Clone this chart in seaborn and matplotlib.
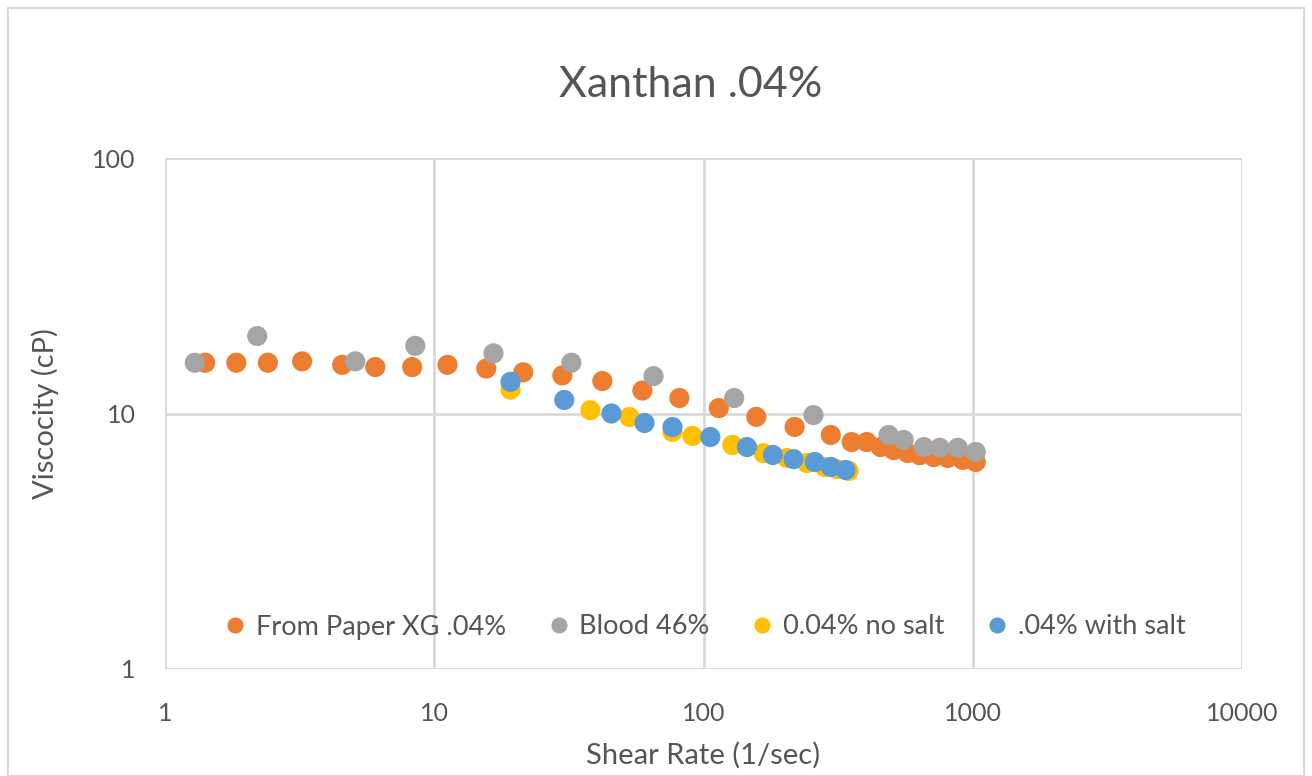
import matplotlib
matplotlib.use("Agg")
import matplotlib.pyplot as plt
import seaborn as sns
import pandas as pd
from matplotlib.patches import Rectangle

# values (log-log)
paper_x = [1.41, 1.84, 2.41, 3.23, 4.55, 6.04, 8.28, 11.2, 15.6, 21.4, 29.9, 42.1, 59.3,
           81.4, 114, 157, 218, 297, 355, 404, 455, 508, 573, 635, 716, 807, 918, 1026]
paper_y = [15.8, 15.8, 15.8, 16.0, 15.5, 15.2, 15.2, 15.5, 15.0, 14.5, 14.1, 13.4, 12.3,
           11.5, 10.5, 9.7, 8.86, 8.24, 7.73, 7.73, 7.39, 7.19, 7.00, 6.87, 6.75, 6.70, 6.58, 6.46]

blood_x = [1.29, 2.20, 5.09, 8.50, 16.6, 32.3, 65.2, 130, 256, 487, 554, 658, 754, 880, 1026]
blood_y = [15.8, 20.1, 16.0, 18.4, 17.2, 15.8, 14.0, 11.5, 9.86, 8.24, 7.88, 7.39, 7.34, 7.34, 7.07]

nosalt_x = [19.2, 38.0, 53.1, 76.7, 91.0, 128, 167, 204, 242, 282, 312, 346]
nosalt_y = [12.4, 10.3, 9.69, 8.47, 8.17, 7.53, 7.00, 6.70, 6.40, 6.18, 6.06, 5.96]

salt_x = [19.2, 30.4, 45.5, 60.4, 76.7, 106, 145, 181, 216, 259, 297, 337]
salt_y = [13.3, 11.3, 10.0, 9.18, 8.85, 8.09, 7.39, 6.88, 6.63, 6.46, 6.18, 6.01]

series = ["From Paper XG .04%", "Blood 46%", "0.04% no salt", ".04% with salt"]
colors = ["#ED7D31", "#A5A5A5", "#FFC000", "#5B9BD5"]

frames = []
for name, xs, ys in zip(series,
                        [paper_x, blood_x, nosalt_x, salt_x],
                        [paper_y, blood_y, nosalt_y, salt_y]):
    frames.append(pd.DataFrame({"shear": xs, "visc": ys, "series": name}))
df = pd.concat(frames, ignore_index=True)

sns.set_style("white")
plt.rcParams["font.family"] = ["Lato", "DejaVu Sans"]
text_color = "#555555"

fig = plt.figure(figsize=(13.12, 7.76), dpi=100)
ax = fig.add_axes([165 / 1312, 1 - 669 / 776, (1242 - 165) / 1312, (669 - 158) / 776])

sns.scatterplot(data=df, x="shear", y="visc", hue="series", hue_order=series,
                palette=colors, s=210, edgecolor="none", linewidth=0, alpha=1,
                ax=ax, zorder=3)

ax.set_xscale("log")
ax.set_yscale("log")
ax.set_xlim(1, 10000)
ax.set_ylim(1, 100)
ax.set_xticks([1, 10, 100, 1000, 10000])
ax.set_xticklabels(["1", "10", "100", "1000", "10000"])
ax.set_yticks([1, 10, 100])
ax.set_yticklabels(["1", "10", "100"])
ax.minorticks_off()
ax.grid(True, which="major", color="#D9D9D9", linewidth=2)
ax.set_axisbelow(True)
for sp in ax.spines.values():
    sp.set_visible(False)
ax.tick_params(length=0, labelsize=18, colors=text_color)
ax.tick_params(axis="x", pad=24)
ax.tick_params(axis="y", pad=21)

ax.set_xlabel("Shear Rate (1/sec)", fontsize=21, color=text_color)
ax.set_ylabel("Viscocity (cP)", fontsize=21, color=text_color)
ax.xaxis.set_label_coords(0.5, (669 - 755) / 511)
ax.yaxis.set_label_coords((45 - 165) / 1077, 0.5)
ax.xaxis.label.set_va("center")
ax.yaxis.label.set_va("center")
fig.text(691 / 1312, 1 - 85 / 776, "Xanthan .04%", fontsize=31, color=text_color,
         ha="center", va="center")

leg = ax.legend(loc="center", bbox_to_anchor=(0.5, (669 - 627) / 511), ncol=4,
                frameon=False, fontsize=19.5, handlelength=1.0, handletextpad=0.26,
                columnspacing=1.45, markerscale=0.8, borderaxespad=0)
for t in leg.get_texts():
    t.set_color(text_color)

fig.patches.append(Rectangle((8 / 1312, 0), 1296 / 1312, 1 - 8 / 776,
                             transform=fig.transFigure, fill=False,
                             edgecolor="#D9D9D9", linewidth=1.5))

fig.savefig("out.png", dpi=100)
